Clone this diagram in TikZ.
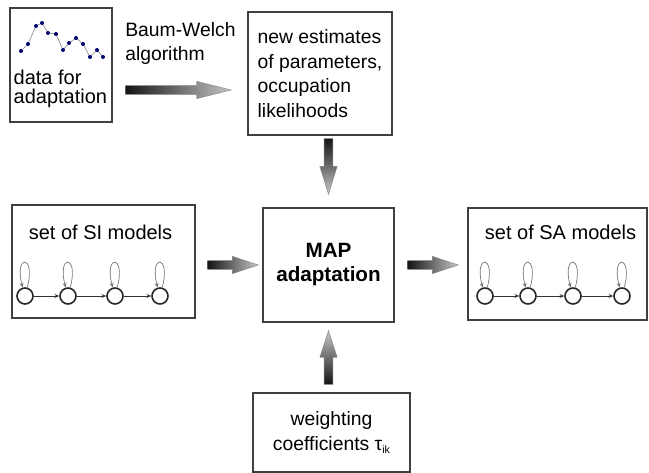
\documentclass[tikz,border=0pt]{standalone}
\usepackage{fontspec}
\setmainfont{Liberation Sans}
\usetikzlibrary{calc,arrows.meta}

\begin{document}
\begin{tikzpicture}
[x=0.75pt,y=-0.75pt,
  boxDecorate/.style={draw=black!75,line width=0.9pt,inner sep=0pt},
  textDecorate/.style={font=\fontsize{14.5}{18.5}\selectfont},
  stateDecorate/.style={shape=circle,draw=black!85,line width=1.2pt,minimum size=12pt,inner sep=0pt},
  loopDecorate/.style={-{Stealth[length=3.5pt,width=3pt]},draw=black!55,line width=0.5pt,out=75,in=105,min distance=26pt},
  transDecorate/.style={-{Stealth[length=3.5pt,width=3pt]},draw=black!80,line width=0.6pt},
  arrowDecorate/.style={draw=black!50,line width=0.3pt,top color=black!92,bottom color=black!22}]

\useasboundingbox (0,0) rectangle (649,473);

%% boxes
\node (data) at (61,65) [boxDecorate,minimum width=76.5pt,minimum height=85.5pt] {};
\node (est) at (320,73.5) [boxDecorate,textDecorate,align=left,
  minimum width=108pt,minimum height=92.25pt]
  {new estimates\\of parameters,\\occupation\\likelihoods};
\node (si) at (103.5,261.5) [boxDecorate,minimum width=137.25pt,minimum height=84.75pt] {};
\node (map) at (328.5,265) [boxDecorate,align=center,font=\fontsize{15.5}{18}\selectfont\bfseries,
  minimum width=98.25pt,minimum height=85.5pt] {MAP\\adaptation};
\node (sa) at (557.5,264) [boxDecorate,minimum width=134.25pt,minimum height=84pt] {};
\node (wc) at (331.5,432.5) [boxDecorate,textDecorate,align=center,
  minimum width=117.75pt,minimum height=59.25pt]
  {weighting\\coefficients τ\raisebox{-2pt}{\fontsize{8}{8}\selectfont ik}};

%% labels
\node (dataLabel) [anchor=south west,inner sep=0pt,align=left,font=\fontsize{15}{14.3}\selectfont]
  at ($(data.south west)+(4,-15)$) {data for\\adaptation};
\node (bwLabel) [anchor=north west,inner sep=0pt,align=left,textDecorate]
  at (125,22) {Baum-Welch\\algorithm};
\node (siLabel) [anchor=base,textDecorate,font=\fontsize{15}{18}\selectfont]
  at ($(si.north)+(-3,35)$) {set of SI models};
\node (saLabel) [anchor=base,textDecorate,font=\fontsize{15}{18}\selectfont]
  at ($(sa.north)+(3,32)$) {set of SA models};

%% data curve
\draw[black!45,line width=0.5pt] (21,51) -- (28,44) -- (36,26) -- (42,23) -- (48,33)
  -- (56,34) -- (63,50) -- (69,43) -- (76,38) -- (83,44) -- (90,57) -- (97,50) -- (103,57);
\foreach \x/\y in {21/51,28/44,36/26,42/23,48/33,56/34,63/50,69/43,76/38,83/44,90/57,97/50,103/57}
  \fill[blue!45!black] (\x,\y) circle (1.5pt);

%% states
\foreach \i/\x in {1/25,2/68,3/115,4/160}
  \node (si\i) at (\x,296) [stateDecorate] {};
\foreach \i/\x in {1/485,2/528,3/573,4/622}
  \node (sa\i) at (\x,296) [stateDecorate] {};

\path
\foreach \i in {1,...,4}
{
  (si\i) edge[loopDecorate] (si\i)
  (sa\i) edge[loopDecorate] (sa\i)
};
\path
\foreach \a/\b in {1/2,2/3,3/4}
{
  (si\a) edge[transDecorate] (si\b)
  (sa\a) edge[transDecorate] (sa\b)
};

%% block arrows
\coordinate (bwTail) at ($(data.east)+(13,25)$);
\coordinate (bwTip) at ($(est.west)+(-16,16.5)$);
\coordinate (estTail) at ($(est.south -| map.north)+(0,3)$);
\coordinate (estTip) at ($(map.north)+(0,-13)$);
\coordinate (siTail) at ($(si.east |- map.west)+(12,0)$);
\coordinate (siTip) at ($(map.west)+(-4,0)$);
\coordinate (mapTail) at ($(map.east)+(13,0)$);
\coordinate (mapTip) at ($(sa.west |- map.east)+(-9,0)$);
\coordinate (wcTail) at ($(wc.north -| map.south)+(0,-8)$);
\coordinate (wcTip) at ($(map.south)+(0,8)$);

\foreach \tail/\tip/\ang/\headLen in {bwTail/bwTip/90/26pt, estTail/estTip/0/21pt,
  siTail/siTip/90/19.5pt, mapTail/mapTip/90/19.5pt, wcTail/wcTip/180/20pt}
  \shade[arrowDecorate,shading angle=\ang]
    ($(\tail)!3.3pt!90:(\tip)$) -- ($(\tip)!\headLen!(\tail)!3.3pt!90:(\tip)$)
    -- ($(\tip)!\headLen!(\tail)!6.5pt!90:(\tip)$) -- (\tip)
    -- ($(\tip)!\headLen!(\tail)!6.5pt!-90:(\tip)$) -- ($(\tip)!\headLen!(\tail)!3.3pt!-90:(\tip)$)
    -- ($(\tail)!3.3pt!-90:(\tip)$) -- cycle;
\end{tikzpicture}
\end{document}
